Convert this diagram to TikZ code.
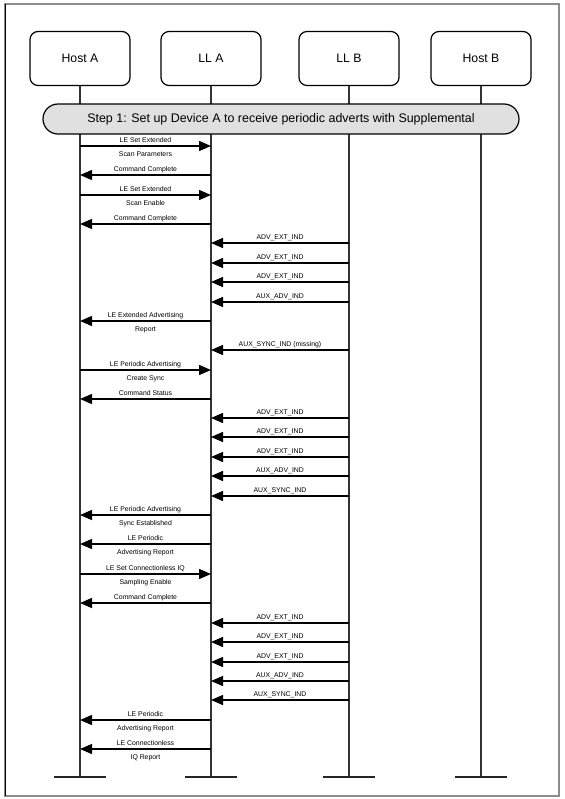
\documentclass[tikz,border=0pt]{standalone}
\usepackage{fontspec}
\setmainfont{Liberation Sans}
\usetikzlibrary{arrows.meta}

\tikzset{
  entity/.style={draw, line width=1.2bp, rounded corners=8bp, minimum width=100bp, minimum height=54bp, font=\fontsize{12.3}{14}\selectfont},
  banner/.style={draw, line width=1.2bp, fill=black!12, rounded corners=15bp, minimum width=476bp, minimum height=30bp, font=\fontsize{12.5}{14}\selectfont},
  lifeline/.style={line width=1.4bp, black!80},
  endbar/.style={line width=2.4bp, black!85},
  msg/.style={line width=1.4bp, -{Triangle[length=12bp,width=10bp]}},
  lbl/.style={font=\fontsize{6.9}{8}\selectfont, inner sep=0pt, anchor=base}
}

\begin{document}
\begin{tikzpicture}[x=1bp,y=-1bp]
\useasboundingbox (0,0) rectangle (565,799);

% outer frame
\draw [black!45, line width=1.2bp] (5,4) rectangle (559,796);
\draw [black, line width=0.8bp] (5,4) -- (5,796);

% the four entities
\node[entity] (hostA) at (80,58.5) {Host A};
\node[entity] (llA) at (211,58.5) {LL A};
\node[entity] (llB) at (349,58.5) {LL B};
\node[entity] (hostB) at (481,58.5) {Host B};

% lifelines and their end bars
\foreach \n in {hostA,llA,llB,hostB}{
  \draw [lifeline] (\n.south) -- (\n |- 0,777) coordinate (\n-end);
  \draw [endbar] ([xshift=-26bp]\n-end) -- ([xshift=26bp]\n-end);
}

\node[banner] (step1) at (281,119) {Step 1: Set up Device A to receive periodic adverts with Supplemental};

% one message: from, to, height, text above, text below
\def\msg#1#2#3#4#5{\draw [msg] (#1 |- 0,#3) -- node[lbl,yshift=4bp]{#4} node[lbl,yshift=-10bp]{#5} (#2 |- 0,#3);}

\msg{hostA}{llA}{146}{LE Set Extended}{Scan Parameters}
\msg{llA}{hostA}{175}{Command Complete}{}
\msg{hostA}{llA}{195}{LE Set Extended}{Scan Enable}
\msg{llA}{hostA}{224}{Command Complete}{}
\msg{llB}{llA}{243}{ADV\_EXT\_IND}{}
\msg{llB}{llA}{263}{ADV\_EXT\_IND}{}
\msg{llB}{llA}{282}{ADV\_EXT\_IND}{}
\msg{llB}{llA}{302}{AUX\_ADV\_IND}{}
\msg{llA}{hostA}{321}{LE Extended Advertising}{Report}
\msg{llB}{llA}{350}{AUX\_SYNC\_IND (missing)}{}
\msg{hostA}{llA}{370}{LE Periodic Advertising}{Create Sync}
\msg{llA}{hostA}{399}{Command Status}{}

\msg{llB}{llA}{418}{ADV\_EXT\_IND}{}
\msg{llB}{llA}{437}{ADV\_EXT\_IND}{}
\msg{llB}{llA}{457}{ADV\_EXT\_IND}{}
\msg{llB}{llA}{476}{AUX\_ADV\_IND}{}
\msg{llB}{llA}{496}{AUX\_SYNC\_IND}{}
\msg{llA}{hostA}{515}{LE Periodic Advertising}{Sync Established}
\msg{llA}{hostA}{544}{LE Periodic}{Advertising Report}
\msg{hostA}{llA}{574}{LE Set Connectionless IQ}{Sampling Enable}
\msg{llA}{hostA}{603}{Command Complete}{}

\msg{llB}{llA}{623}{ADV\_EXT\_IND}{}
\msg{llB}{llA}{642}{ADV\_EXT\_IND}{}
\msg{llB}{llA}{662}{ADV\_EXT\_IND}{}
\msg{llB}{llA}{681}{AUX\_ADV\_IND}{}
\msg{llB}{llA}{700}{AUX\_SYNC\_IND}{}
\msg{llA}{hostA}{720}{LE Periodic}{Advertising Report}
\msg{llA}{hostA}{749}{LE Connectionless}{IQ Report}

\end{tikzpicture}
\end{document}
